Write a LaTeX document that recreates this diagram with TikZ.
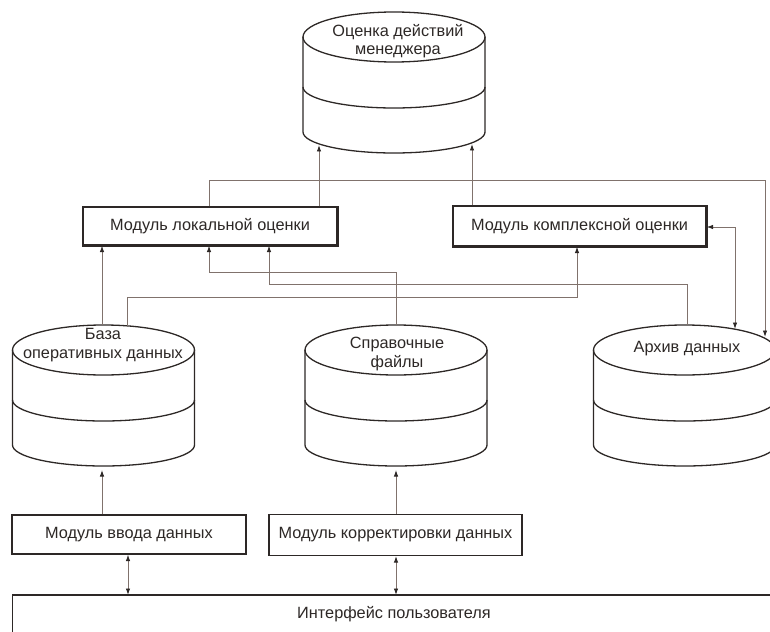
\documentclass[tikz,border=0pt]{standalone}
\usepackage{fontspec}
\setmainfont{Liberation Sans}
\usetikzlibrary{arrows.meta}
\definecolor{conncol}{RGB}{128,114,108}
\definecolor{inkcol}{RGB}{45,40,38}
\newcommand{\dbcyl}[2]{%
  \begin{scope}[shift={(#1,#2)}]
    \draw[cyl] (0,0) ellipse [x radius=91, y radius=25];
    \draw[cyl] (-91,0) -- (-91,95) arc[start angle=180, end angle=0, x radius=91, y radius=21] -- (91,0);
    \draw[cyl] (-91,50) arc[start angle=180, end angle=0, x radius=91, y radius=21];
  \end{scope}}
\begin{document}
\begin{tikzpicture}[x=1pt,y=-1pt,
  cyl/.style={draw=inkcol, line width=1.3pt},
  box/.style={draw=inkcol, line width=1.2pt, fill=white, inner sep=0pt},
  lbl/.style={text=inkcol, font=\fontsize{16.3}{18.5}\selectfont, align=center, inner sep=0pt},
  conn/.style={draw=conncol, line width=0.9pt},
  >={Latex[length=6.5pt,width=4.5pt,color=inkcol]}]
\useasboundingbox (0,0) rectangle (770,631);
\clip (0,0) rectangle (770,631);

% cylinders
\dbcyl{394}{37}
\dbcyl{103.5}{350}
\dbcyl{396}{350}
\dbcyl{684.5}{350}
\node[lbl] (ocenka) at (398,41) {Оценка действий\\менеджера};
\node[lbl] (baza) at (103,345) {База\\оперативных данных};
\node[lbl] (sprav) at (397,354) {Справочные\\файлы};
\node[lbl] (arhiv) at (687,349) {Архив данных};

% boxes
\node[box, minimum width=254pt, minimum height=38pt] (lok) at (210,226) {};
\node[lbl] at (lok.center) {Модуль локальной оценки};
\node[box, minimum width=253pt, minimum height=40pt] (kom) at (579.5,226) {};
\node[lbl] at (kom.center) {Модуль комплексной оценки};
\node[box, minimum width=234pt, minimum height=39pt] (vvod) at (129,534.5) {};
\node[lbl] at (vvod.center) {Модуль ввода данных};
\node[box, minimum width=253pt, minimum height=41pt] (korr) at (395.5,535) {};
\node[lbl] at (korr.center) {Модуль корректировки данных};
\node[box, minimum width=800pt, minimum height=70pt, anchor=north west] (intf) at (12,595) {};
\node[lbl] (intftext) at (394,614) {Интерфейс пользователя};
\foreach \n in {lok,kom}
  \draw[draw=inkcol, line width=1.8pt] (\n.south west) -- (\n.south east) -- (\n.north east);
\draw[draw=inkcol, line width=1.6pt] (intf.north west) -- (intf.north east);

% anchor points on cylinders
\coordinate (oc-b1) at (319,145);
\coordinate (oc-b2) at (472,144);
\coordinate (ba-t1) at (102,325);
\coordinate (ba-t2) at (127,326);
\coordinate (ba-b) at (102,470);
\coordinate (sp-t) at (396,325);
\coordinate (sp-b) at (396,470);
\coordinate (ar-t1) at (687,325);
\coordinate (ar-t2) at (735,329);
\coordinate (ar-t3) at (765,337);
\coordinate (k1) at (209,180);
\coordinate (k2) at (765,180);
\coordinate (k3) at (735,227);
\coordinate (h1) at (0,297);
\coordinate (h2) at (0,272);
\coordinate (h3) at (0,284);

% connectors
\draw[conn,->] (lok.north -| oc-b1) -- (oc-b1);
\draw[conn,->] (kom.north -| oc-b2) -- (oc-b2);
\draw[conn,->] (lok.north -| k1) -- (k1) -- (k2) -- (ar-t3);
\draw[conn,<->] (kom.east |- k3) -- (k3) -- (ar-t2);
\draw[conn,->] (ba-t1) -- (lok.south -| ba-t1);
\draw[conn,->] (ba-t2) -- (ba-t2 |- h1) -- (577,297) -- (kom.south -| 577,0);
\draw[conn,->] (sp-t) -- (sp-t |- h2) -- (209,272) -- (lok.south -| 209,0);
\draw[conn,->] (ar-t1) -- (ar-t1 |- h3) -- (269,284) -- (lok.south -| 269,0);
\draw[conn,->] (vvod.north -| ba-b) -- (ba-b);
\draw[conn,->] (korr.north -| sp-b) -- (sp-b);
\draw[conn,<->] (vvod.south -| 128,0) -- (intf.north -| 128,0);
\draw[conn,<->] (korr.south -| 396,0) -- (intf.north -| 396,0);
\end{tikzpicture}
\end{document}
